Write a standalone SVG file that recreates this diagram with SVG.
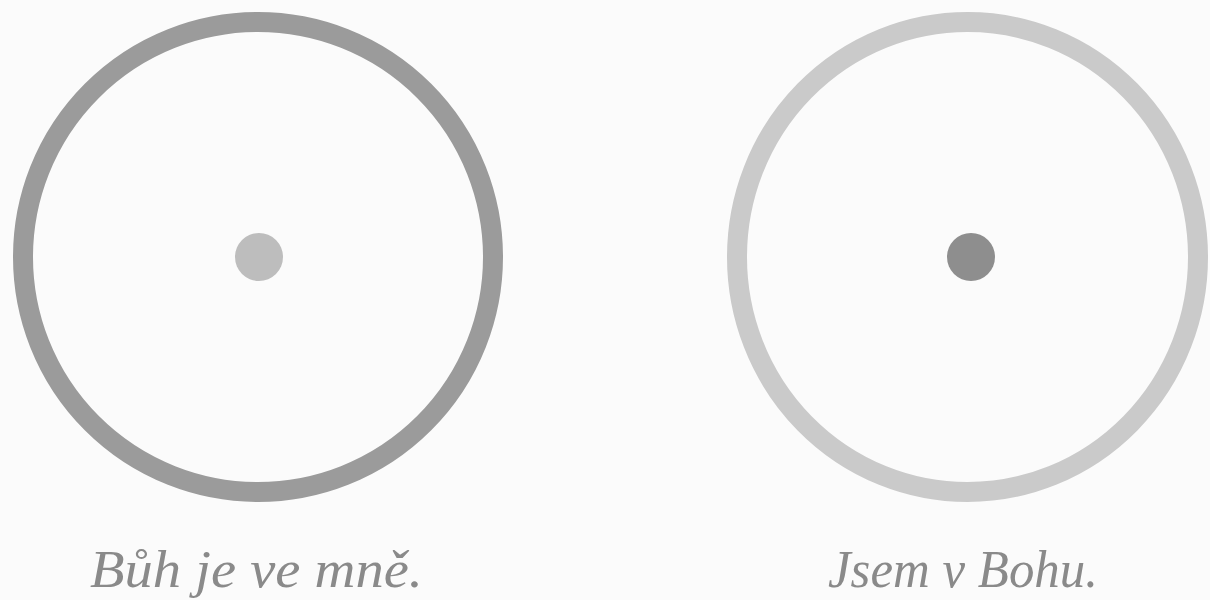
<svg xmlns="http://www.w3.org/2000/svg" width="1210" height="600" viewBox="0 0 1210 600">
<style>
.ring{fill:none;stroke-width:20}
.lbl{font-family:"Liberation Serif","DejaVu Serif",serif;font-style:italic;font-size:52px;fill:#8a8a8a}
</style>
<rect width="1210" height="600" fill="#fbfbfb"/>
<g id="left">
<circle class="ring" cx="258" cy="257" r="235" stroke="#9b9b9b"/>
<circle cx="259" cy="257" r="24" fill="#bdbdbd"/>
<text class="lbl" x="90" y="587" textLength="333" lengthAdjust="spacingAndGlyphs">Bůh je ve mně.</text>
</g>
<g id="right">
<ellipse class="ring" cx="967.5" cy="257" rx="230.5" ry="235" stroke="#cacaca"/>
<circle cx="971" cy="257" r="24" fill="#8e8e8e"/>
<text class="lbl" x="828" y="587" textLength="270" lengthAdjust="spacingAndGlyphs">Jsem v Bohu.</text>
</g>
</svg>
